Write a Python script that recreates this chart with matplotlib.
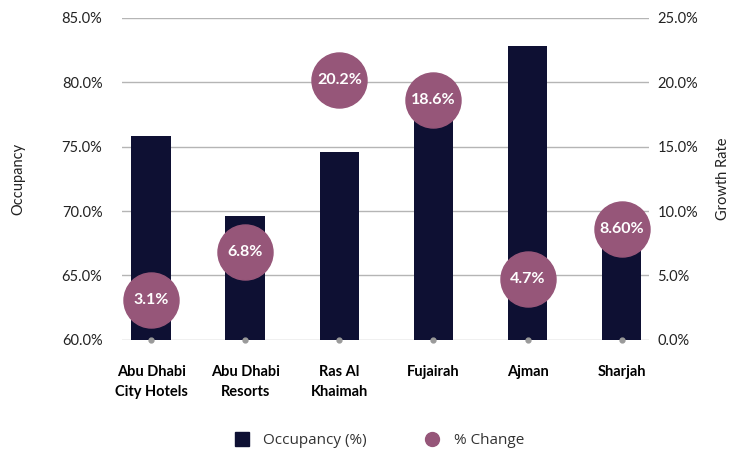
import matplotlib.pyplot as plt
from matplotlib.lines import Line2D

plt.rcParams['font.family'] = ['Lato', 'DejaVu Sans']

regions = ['Abu Dhabi\nCity Hotels', 'Abu Dhabi\nResorts', 'Ras Al\nKhaimah',
           'Fujairah', 'Ajman', 'Sharjah']
occupancy = [75.8, 69.6, 74.6, 79.0, 82.8, 68.0]
pct_change = [3.1, 6.8, 20.2, 18.6, 4.7, 8.6]
change_labels = ['3.1%', '6.8%', '20.2%', '18.6%', '4.7%', '8.60%']
baseline = [0, 0, 0, 0, 0, 0]

bar_color = '#0e1033'
dot_color = '#965679'
grid_color = '#b5b5b5'

fig = plt.figure(figsize=(7.3, 4.55), dpi=100)
ax = fig.add_axes([0.167, 0.253, 0.722, 0.708])
x = list(range(len(regions)))

ax.bar(x, occupancy, width=0.42, color=bar_color, zorder=2)
ax.set_ylim(60, 85)
ax.set_yticks([60, 65, 70, 75, 80, 85])
ax.set_yticklabels([f'{v:.1f}%' for v in [60, 65, 70, 75, 80, 85]])
ax.set_xlim(-0.31, 5.29)
ax.set_xticks(x)
ax.set_xticklabels(regions, fontweight='bold', fontsize=10.5, linespacing=1.6, va='top')
ax.grid(axis='y', color=grid_color, linewidth=1)
ax.set_axisbelow(True)
ax.tick_params(axis='y', length=0, pad=14, labelsize=10.5, labelcolor='#222222')
ax.tick_params(axis='x', length=0, pad=18)
ax.set_ylabel('Occupancy', fontsize=10.5, labelpad=26, color='#222222')
for s in ax.spines.values():
    s.set_visible(False)

ax2 = ax.twinx()
ax2.set_ylim(0, 25)
ax2.set_yticks([0, 5, 10, 15, 20, 25])
ax2.set_yticklabels([f'{v:.1f}%' for v in [0, 5, 10, 15, 20, 25]])
ax2.tick_params(axis='y', length=0, pad=6, labelsize=10.5, labelcolor='#222222')
ax2.set_ylabel('Growth Rate', fontsize=10.5, labelpad=13, color='#222222')
for s in ax2.spines.values():
    s.set_visible(False)

ax2.scatter(x, pct_change, s=1570, color=dot_color, zorder=3, clip_on=False)
ax2.plot(x, baseline, linestyle='none', marker='o', markersize=3.5,
         color='#9a9a9a', zorder=4, clip_on=False)
for xi, yi, lab in zip(x, pct_change, change_labels):
    ax2.text(xi, yi, lab, ha='center', va='center', color='white',
             fontsize=11.5, fontweight='bold', zorder=5)

handles = [
    Line2D([], [], linestyle='none', marker='s', markersize=10, color=bar_color),
    Line2D([], [], linestyle='none', marker='o', markersize=10, color=dot_color),
]
fig.legend(handles, ['Occupancy (%)', '% Change'], loc='center',
           bbox_to_anchor=(0.514, 0.031), ncol=2, frameon=False,
           prop={'family': 'Open Sans', 'size': 11},
           columnspacing=3.3, handletextpad=0.4, labelcolor='#333333')

plt.savefig('out.png', dpi=100)
